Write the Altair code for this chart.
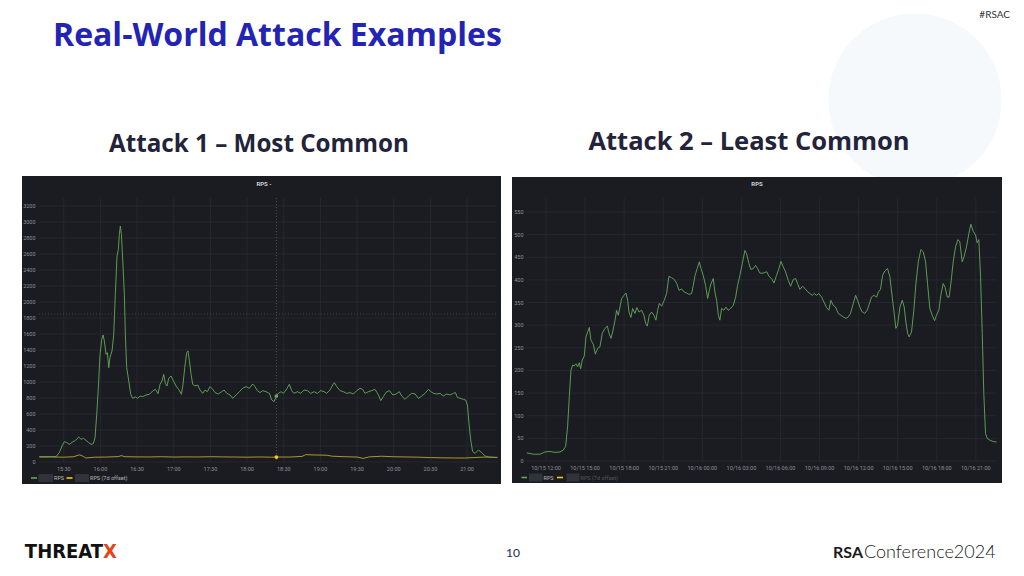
import altair as alt
import pandas as pd

# ---------------- Attack 1 (minutes after 15:00) ----------------
a1_min = [10, 15.5, 23.7, 26.4, 28.6, 30.5, 32.4, 34.6, 36.8, 38.7,
          40.6, 42.2, 44.2, 46.1, 48.2, 50.4, 52.3, 54.2, 55.6, 57.0,
          58.3, 59.7, 61.1, 62.2, 63.2, 64.6, 65.7, 66.8, 67.9, 69.5,
          70.9, 72.2, 73.6, 74.7, 75.5, 76.3, 77.2, 78.3, 79.6, 80.4,
          81.5, 83.2, 84.8, 86.4, 88.6, 90.5, 92.4, 94.6, 97.3, 100.1,
          102.8, 105.0, 107.2, 108.8, 110.4, 111.8, 113.2, 114.5, 115.9, 117.8,
          119.7, 121.9, 124.1, 126.3, 127.6, 129.0, 130.6, 131.7, 132.8, 134.2,
          135.5, 137.4, 139.6,
          141.5, 143.7, 145.6, 147.5, 149.7, 151.9, 153.8, 156.5, 159.3, 161.2,
          163.4, 166.1, 168.3, 171.0, 173.7, 176.4, 179.2, 181.9, 184.6, 186.5,
          188.4, 190.6, 192.8, 195.5, 198.3, 200.2, 202.1, 203.7, 205.6, 207.8,
          209.7, 211.9, 214.6, 216.5, 218.4, 221.2, 223.9, 226.6, 229.4, 232.1,
          234.8, 237.5, 240.3, 243.0, 245.2, 247.9, 250.1, 251.4, 253.4, 256.1,
          258.8, 261.5, 264.3, 267.0, 269.7, 272.5, 274.6, 276.5, 279.3, 282.0,
          284.7, 287.5, 289.4, 291.5, 293.7, 296.5, 299.2, 301.9, 304.6, 306.5,
          309.3, 312.0, 314.7, 317.5, 320.2, 322.9, 325.6, 328.4, 330.5, 332.5,
          335.2, 337.9, 340.6, 343.4, 346.1, 348.8, 350.5, 352.1, 354.3, 357.0,
          358.9, 360.3, 361.6, 363.0, 364.6, 366.6, 369.3, 372.0, 374.7, 378.8,
          384.3]
a1_rps = [67, 67, 67, 117, 200, 254, 242, 221, 246, 263,
          283, 313, 283, 296, 271, 242, 221, 229, 304, 596,
          929, 1346, 1533, 1588, 1513, 1346, 1367, 1179, 1313, 1388,
          1596, 2096, 2575, 2658, 2846, 2950, 2846, 2513, 2096, 1596,
          1179, 1013, 846, 796, 813, 796, 825, 817, 838, 846,
          888, 908, 854, 971, 1013, 1096, 979, 950, 1046, 1075,
          1013, 950, 908, 846, 971, 1179, 1367, 1388, 1263, 1096,
          971, 950, 963,
          900, 858, 900, 879, 942, 908, 867, 850, 879, 900,
          858, 838, 796, 838, 879, 921, 942, 921, 975, 942,
          892, 867, 892, 879, 858, 775, 754, 817, 858, 879,
          858, 900, 971, 892, 858, 879, 858, 900, 892, 858,
          879, 858, 892, 879, 858, 900, 963, 992, 942, 892,
          879, 858, 867, 850, 892, 921, 908, 858, 879, 892,
          908, 838, 767, 817, 871, 892, 838, 850, 879, 825,
          783, 825, 858, 850, 796, 825, 858, 908, 879, 858,
          850, 858, 825, 850, 838, 858, 867, 808, 796, 783,
          775, 713, 483, 275, 129, 108, 150, 117, 75, 58,
          54]
a1_off_min = [10, 20, 30, 38, 43, 46, 48, 55, 65, 75, 77, 80, 90, 100, 110,
              120, 130, 140, 150, 160, 170, 180, 190, 200, 205, 215, 225, 228,
              235, 245, 250, 260, 270, 275, 280, 290, 300, 310, 320, 330, 340,
              350, 358, 365, 372, 378, 385]
a1_off_rps = [62, 63, 60, 66, 90, 70, 50, 60, 62, 68, 80, 66, 64, 63, 66,
              62, 64, 63, 66, 64, 62, 60, 63, 60, 62, 62, 70, 92,
              88, 85, 72, 66, 62, 45, 64, 72, 66, 63, 60, 55, 52,
              50, 50, 55, 60, 62, 58]
a1_yticks = [0, 200, 400, 600, 800, 1000, 1200, 1400, 1600, 1800, 2000,
             2200, 2400, 2600, 2800, 3000, 3200]
a1_xtick_min = [30, 60, 90, 120, 150, 180, 210, 240, 270, 300, 330, 360]
a1_xtick_lbl = ["15:30", "16:00", "16:30", "17:00", "17:30", "18:00", "18:30",
                "19:00", "19:30", "20:00", "20:30", "21:00"]
a1_cross_min = [204]
a1_cross_rps = [1850]
a1_hover_rps = [825]
a1_hover_off = [62]

# ---------------- Attack 2 (hours after 10/15 12:00) ----------------
a2_hr = [-1.48, -0.97, -0.46, -0.08, 0.31, 0.69, 1.07, 1.33, 1.51, 1.66,
         1.79, 1.92, 2.05, 2.17, 2.30, 2.43, 2.56, 2.66, 2.79, 2.94,
         3.07, 3.20, 3.33, 3.45, 3.63, 3.79, 3.97, 4.14, 4.32, 4.53,
         4.71, 4.84, 4.99, 5.12, 5.30, 5.42, 5.55, 5.68, 5.81, 5.99,
         6.14, 6.27, 6.37, 6.52, 6.65, 6.83, 6.98, 7.14, 7.34, 7.52,
         7.65, 7.78, 7.93, 8.11, 8.29, 8.44, 8.57, 8.70, 8.88, 9.08,
         9.26, 9.44, 9.64, 9.85, 10.03, 10.21, 10.41, 10.62, 10.80, 10.97,
         11.18, 11.31, 11.44, 11.61, 11.77, 11.90, 12.07, 12.25, 12.41, 12.54,
         12.66, 12.84, 12.97, 13.10, 13.23, 13.35, 13.48, 13.66, 13.81, 13.99,
         14.17, 14.38, 14.56, 14.71, 14.89, 15.07, 15.27, 15.40, 15.58, 15.73,
         15.91, 16.09, 16.24, 16.42,
         16.68, 16.94, 17.14, 17.32, 17.50, 17.70, 17.88, 18.04, 18.21, 18.39,
         18.60, 18.78, 18.98, 19.16, 19.31, 19.49, 19.70, 19.88, 20.08, 20.26,
         20.44, 20.59, 20.77, 20.95, 21.16, 21.34, 21.54, 21.72, 21.87, 22.05,
         22.23, 22.44, 22.64, 22.82, 23.02, 23.20, 23.38, 23.59, 23.77, 23.92,
         24.10, 24.28, 24.48, 24.66, 24.81, 24.99, 25.17, 25.38, 25.53, 25.68,
         25.84, 26.02, 26.22, 26.40, 26.58, 26.73, 26.86, 26.99, 27.17, 27.35,
         27.50, 27.63, 27.76, 27.88, 28.06, 28.24, 28.40, 28.58, 28.78, 28.96,
         29.14, 29.29, 29.47, 29.65, 29.83, 29.98, 30.16, 30.31, 30.49, 30.65,
         30.80, 30.95, 31.11, 31.26, 31.44, 31.62, 31.77, 31.95, 32.10, 32.28,
         32.46, 32.62, 32.80, 32.98, 33.10, 33.23, 33.36, 33.49, 33.61, 33.74,
         33.87, 34.08, 34.33, 34.59]
a2_rps = [18, 15, 15, 20, 21, 19, 20, 24, 32, 76,
          142, 201, 212, 210, 215, 208, 217, 204, 223, 232,
          274, 285, 295, 267, 258, 236, 249, 252, 282, 293,
          298, 282, 271, 285, 311, 333, 322, 340, 359, 366,
          371, 355, 329, 317, 337, 326, 339, 329, 333, 322,
          304, 298, 322, 329, 322, 311, 333, 348, 342, 355,
          370, 408, 405, 401, 393, 377, 380, 373, 371, 368,
          370, 388, 410, 425, 440, 425, 410, 388, 359, 377,
          391, 403, 373, 355, 322, 311, 337, 333, 340, 333,
          337, 344, 362, 388, 410, 436, 465, 458, 436, 423,
          425, 432, 425, 415,
          415, 418, 407, 403, 393, 410, 425, 441, 429, 418,
          399, 386, 401, 403, 392, 379, 386, 381, 374, 370,
          366, 370, 366, 370, 362, 351, 339, 333, 355, 344,
          340, 326, 322, 318, 315, 318, 326, 348, 366, 355,
          340, 329, 326, 333, 346, 362, 366, 362, 374, 379,
          410, 420, 425, 407, 362, 326, 293, 300, 340, 355,
          340, 307, 282, 274, 285, 333, 392, 440, 467, 462,
          440, 392, 337, 322, 310, 322, 333, 366, 392, 383,
          362, 362, 399, 440, 473, 489, 484, 440, 452, 473,
          502, 523, 507, 499, 482, 489, 407, 282, 149, 61,
          50, 46, 43, 42]
a2_yticks = [0, 50, 100, 150, 200, 250, 300, 350, 400, 450, 500, 550]
a2_xtick_hr = [0, 3, 6, 9, 12, 15, 18, 21, 24, 27, 30, 33]
a2_xtick_lbl = ["10/15 12:00", "10/15 15:00", "10/15 18:00", "10/15 21:00",
                "10/16 00:00", "10/16 03:00", "10/16 06:00", "10/16 09:00",
                "10/16 12:00", "10/16 15:00", "10/16 18:00", "10/16 21:00"]

# ---------------- styling ----------------
PANEL_BG = "#1a1c21"
GRID = "#2c2f35"
TICK = "#8e9198"
GREEN = "#64a85a"
YELLOW = "#c2a12c"
UI_FONT = "Roboto"
SLIDE_FONT = "'Open Sans', Lato, sans-serif"
LOGO_FONT = "'Liberation Sans Narrow', 'DejaVu Sans Condensed', 'Roboto', sans-serif"

X1 = alt.Scale(domain=[10, 385], range=[39.3, 497.6], nice=False, zero=False)
Y1 = alt.Scale(domain=[0, 3200], range=[462, 206], nice=False)
X2 = alt.Scale(domain=[-1.48, 34.6], range=[526.7, 996.7], nice=False, zero=False)
Y2 = alt.Scale(domain=[0, 550], range=[461, 212], nice=False)

one = pd.DataFrame({"k": [0]})


def rect(x, x2, y, y2, color, opacity=1.0):
    return alt.Chart(one).mark_rect(color=color, opacity=opacity).encode(
        x=alt.value(x), x2=alt.value(x2), y=alt.value(y), y2=alt.value(y2))


def label(txt, x, y, size, color, align="left", weight="normal", font=UI_FONT, baseline="alphabetic"):
    return alt.Chart(one).mark_text(text=txt, align=align, baseline=baseline, fontSize=size,
                                    color=color, fontWeight=weight, font=font).encode(
        x=alt.value(x), y=alt.value(y))


layers = []

# slide decoration (faint circle)
layers.append(alt.Chart(one).mark_circle(color="#f5f9fc", opacity=1).encode(
    x=alt.value(915), y=alt.value(100), size=alt.value(30000)))

# slide texts
layers.append(label("Real-World Attack Examples", 53, 46, 32, "#2424b4", weight="bold", font=SLIDE_FONT))
layers.append(label("#RSAC", 1010, 18, 10, "#333333", align="right", font="Lato"))
layers.append(label("Attack 1 – Most Common", 259, 152, 24.2, "#23233a", align="center", weight="bold", font=SLIDE_FONT))
layers.append(label("Attack 2 – Least Common", 749, 150, 25.5, "#23233a", align="center", weight="bold", font=SLIDE_FONT))
layers.append(label("THREAT", 103, 558, 20, "#111111", align="right", weight="bold", font=LOGO_FONT))
layers.append(label("X", 103, 558, 20, "#e4461c", align="left", weight="bold", font=LOGO_FONT))
layers.append(label("10", 513, 557, 12, "#1e2a4a", align="center", font="Lato"))
layers.append(label("RSA", 863, 558, 16, "#1a1a1a", align="right", weight="bold", font="Lato"))
layers.append(label("Conference2024", 864, 558, 18, "#1a1a1a", align="left", weight=300, font="Lato"))

# panel backgrounds
layers.append(rect(22, 501, 176, 484, PANEL_BG))
layers.append(rect(512, 1002, 177, 483, PANEL_BG))

# ---- panel 1 ----
yt1 = pd.DataFrame({"v": a1_yticks, "lbl": [str(v) for v in a1_yticks]})
xt1 = pd.DataFrame({"t": a1_xtick_min, "lbl": a1_xtick_lbl})
layers.append(alt.Chart(yt1).mark_rule(color=GRID, strokeWidth=0.6).encode(
    y=alt.Y("v:Q", scale=Y1, axis=None), x=alt.value(39), x2=alt.value(497)))
layers.append(alt.Chart(xt1).mark_rule(color=GRID, strokeWidth=0.6).encode(
    x=alt.X("t:Q", scale=X1, axis=None), y=alt.value(198), y2=alt.value(462)))
layers.append(alt.Chart(yt1).mark_text(align="right", baseline="middle", fontSize=5.5, color=TICK, font=UI_FONT).encode(
    y=alt.Y("v:Q", scale=Y1, axis=None), x=alt.value(35.5), text="lbl:N"))
layers.append(alt.Chart(xt1).mark_text(align="center", baseline="middle", fontSize=5.5, color=TICK, font=UI_FONT).encode(
    x=alt.X("t:Q", scale=X1, axis=None), y=alt.value(469), text="lbl:N"))

# crosshair
cross = pd.DataFrame({"t": a1_cross_min, "v": a1_cross_rps})
layers.append(alt.Chart(cross).mark_rule(color="#6e7178", strokeWidth=0.6, strokeDash=[1, 2]).encode(
    x=alt.X("t:Q", scale=X1, axis=None), y=alt.value(198), y2=alt.value(462)))
layers.append(alt.Chart(cross).mark_rule(color="#5b6b58", strokeWidth=0.6, strokeDash=[1, 2]).encode(
    y=alt.Y("v:Q", scale=Y1, axis=None), x=alt.value(39), x2=alt.value(497)))

off1 = pd.DataFrame({"t": a1_off_min, "v": a1_off_rps})
layers.append(alt.Chart(off1).mark_line(color=YELLOW, strokeWidth=0.9).encode(
    x=alt.X("t:Q", scale=X1, axis=None), y=alt.Y("v:Q", scale=Y1, axis=None)))
rps1 = pd.DataFrame({"t": a1_min, "v": a1_rps})
layers.append(alt.Chart(rps1).mark_line(color=GREEN, strokeWidth=0.9).encode(
    x=alt.X("t:Q", scale=X1, axis=None), y=alt.Y("v:Q", scale=Y1, axis=None)))

hov = pd.DataFrame({"t": a1_cross_min * 2, "v": a1_hover_rps + a1_hover_off, "s": ["rps", "off"]})
layers.append(alt.Chart(hov).mark_circle(size=14, opacity=1).encode(
    x=alt.X("t:Q", scale=X1, axis=None), y=alt.Y("v:Q", scale=Y1, axis=None),
    color=alt.Color("s:N", scale=alt.Scale(domain=["rps", "off"], range=[GREEN, "#f2cc0c"]), legend=None)))

# panel 1 title + legend
layers.append(label("RPS -", 264, 186, 6, "#cfd1d4", align="center", weight="bold"))
layers.append(alt.Chart(one).mark_rule(color=GREEN, strokeWidth=1.6).encode(
    x=alt.value(31), x2=alt.value(37), y=alt.value(478)))
layers.append(rect(38.5, 53, 474, 482, "#30333a"))
layers.append(label("RPS", 54, 480, 5.5, "#b5b8bd"))
layers.append(alt.Chart(one).mark_rule(color="#f2cc0c", strokeWidth=1.6).encode(
    x=alt.value(66.5), x2=alt.value(72.5), y=alt.value(478)))
layers.append(rect(75, 89, 474, 482, "#30333a"))
layers.append(label("RPS (7d offset)", 90, 480, 5.5, "#b5b8bd"))

# ---- panel 2 ----
yt2 = pd.DataFrame({"v": a2_yticks, "lbl": [str(v) for v in a2_yticks]})
xt2 = pd.DataFrame({"t": a2_xtick_hr, "lbl": a2_xtick_lbl})
layers.append(alt.Chart(yt2).mark_rule(color=GRID, strokeWidth=0.6).encode(
    y=alt.Y("v:Q", scale=Y2, axis=None), x=alt.value(527), x2=alt.value(997)))
layers.append(alt.Chart(xt2).mark_rule(color=GRID, strokeWidth=0.6).encode(
    x=alt.X("t:Q", scale=X2, axis=None), y=alt.value(198), y2=alt.value(461)))
layers.append(alt.Chart(yt2).mark_text(align="right", baseline="middle", fontSize=5.5, color=TICK, font=UI_FONT).encode(
    y=alt.Y("v:Q", scale=Y2, axis=None), x=alt.value(523.5), text="lbl:N"))
layers.append(alt.Chart(xt2).mark_text(align="center", baseline="middle", fontSize=5.5, color=TICK, font=UI_FONT).encode(
    x=alt.X("t:Q", scale=X2, axis=None), y=alt.value(468), text="lbl:N"))

rps2 = pd.DataFrame({"t": a2_hr, "v": a2_rps})
layers.append(alt.Chart(rps2).mark_line(color=GREEN, strokeWidth=0.9).encode(
    x=alt.X("t:Q", scale=X2, axis=None), y=alt.Y("v:Q", scale=Y2, axis=None)))

layers.append(label("RPS", 757, 186, 6, "#cfd1d4", align="center", weight="bold"))
layers.append(alt.Chart(one).mark_rule(color=GREEN, strokeWidth=1.6).encode(
    x=alt.value(521.5), x2=alt.value(527), y=alt.value(477.5)))
layers.append(rect(529, 542.5, 473.5, 481.5, "#30333a"))
layers.append(label("RPS", 543.5, 479.5, 5.5, "#b5b8bd"))
layers.append(alt.Chart(one).mark_rule(color="#f2cc0c", strokeWidth=1.6).encode(
    x=alt.value(557), x2=alt.value(563), y=alt.value(477.5)))
layers.append(rect(566.5, 579.5, 473.5, 481.5, "#30333a"))
layers.append(label("RPS (7d offset)", 580.5, 479.5, 5.5, "#55585e"))

chart = alt.layer(*layers).resolve_scale(x="independent", y="independent", color="independent").properties(
    width=1024, height=576, padding=0,
    autosize=alt.AutoSizeParams(type="none"),
    background="white",
).configure_view(stroke=None)

chart.save("out.html", embed_options={"renderer": "svg", "actions": False})
